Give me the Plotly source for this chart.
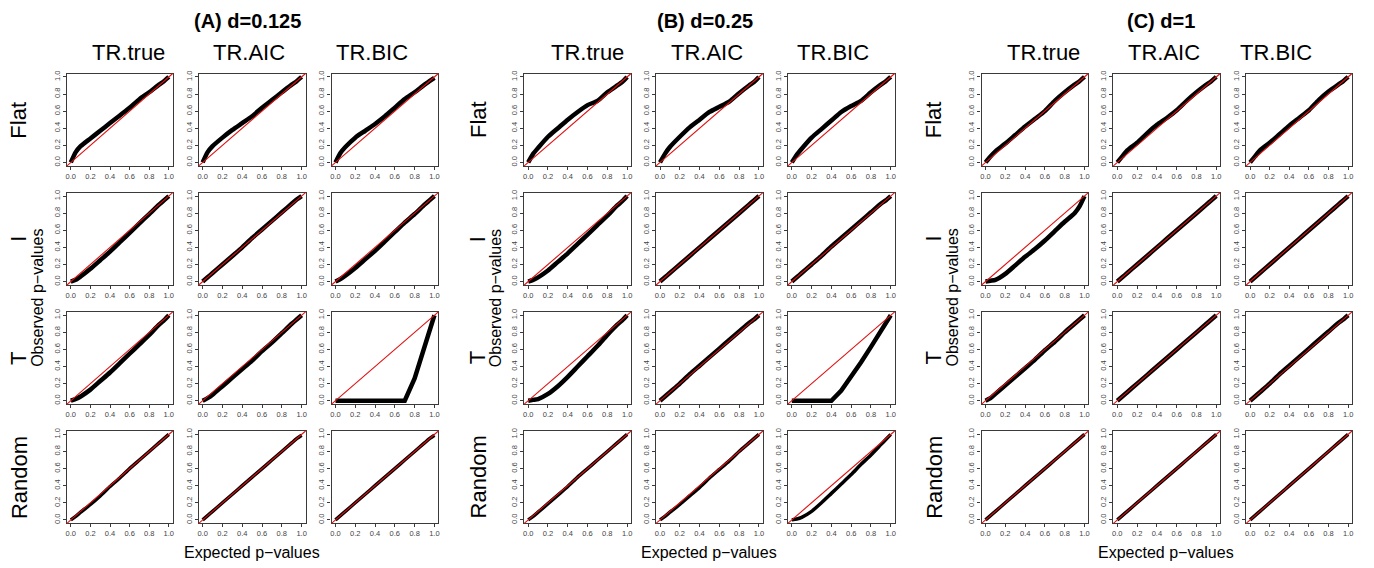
import plotly.graph_objects as go

# ---------------- data ----------------
EXPECTED = [0, 0.05, 0.1, 0.2, 0.3, 0.4, 0.5, 0.6, 0.7, 0.8, 0.9, 0.95, 1.0]
TICKS = [0.0, 0.2, 0.4, 0.6, 0.8, 1.0]
TICK_TEXT = ["0.0", "0.2", "0.4", "0.6", "0.8", "1.0"]
PANEL_TITLES = ["(A) d=0.125", "(B) d=0.25", "(C) d=1"]
METHODS = ["TR.true", "TR.AIC", "TR.BIC"]
MODELS = ["Flat", "I", "T", "Random"]

# observed p-value quantiles; each list of 3 = TR.true, TR.AIC, TR.BIC
A_FLAT = [[0, 0.12, 0.19, 0.28, 0.37, 0.46, 0.55, 0.64, 0.74, 0.82, 0.91, 0.95, 1.0],
          [0, 0.12, 0.19, 0.29, 0.38, 0.46, 0.54, 0.64, 0.73, 0.82, 0.91, 0.95, 1.0],
          [0, 0.11, 0.18, 0.29, 0.37, 0.45, 0.54, 0.64, 0.74, 0.82, 0.91, 0.95, 0.99]]
A_I = [[0, 0.02, 0.06, 0.15, 0.25, 0.35, 0.46, 0.57, 0.68, 0.79, 0.90, 0.95, 1.0],
       [0, 0.05, 0.10, 0.20, 0.30, 0.40, 0.51, 0.61, 0.71, 0.81, 0.91, 0.96, 1.0],
       [0, 0.03, 0.07, 0.16, 0.26, 0.36, 0.47, 0.58, 0.69, 0.79, 0.90, 0.95, 1.0]]
A_T = [[0, 0.02, 0.05, 0.13, 0.23, 0.33, 0.44, 0.55, 0.66, 0.77, 0.89, 0.94, 1.0],
       [0, 0.03, 0.07, 0.17, 0.27, 0.37, 0.47, 0.58, 0.68, 0.79, 0.90, 0.95, 1.0],
       [0, 0, 0, 0, 0, 0, 0, 0, 0, 0.26, 0.62, 0.81, 1.0]]
A_R = [[0, 0.04, 0.09, 0.18, 0.28, 0.39, 0.49, 0.60, 0.70, 0.80, 0.90, 0.95, 1.0],
       [0, 0.05, 0.10, 0.20, 0.30, 0.40, 0.50, 0.60, 0.70, 0.80, 0.90, 0.95, 0.99],
       [0, 0.05, 0.10, 0.20, 0.30, 0.40, 0.50, 0.60, 0.70, 0.80, 0.90, 0.95, 0.99]]

B_FLAT = [[0, 0.10, 0.17, 0.30, 0.40, 0.50, 0.59, 0.67, 0.72, 0.82, 0.90, 0.94, 1.0],
          [0, 0.10, 0.18, 0.30, 0.41, 0.50, 0.59, 0.65, 0.71, 0.81, 0.90, 0.94, 1.0],
          [0, 0.09, 0.16, 0.29, 0.39, 0.49, 0.59, 0.66, 0.72, 0.82, 0.91, 0.95, 1.0]]
B_I = [[0, 0.02, 0.05, 0.13, 0.23, 0.33, 0.44, 0.55, 0.66, 0.77, 0.89, 0.94, 1.0],
       [0, 0.05, 0.10, 0.20, 0.30, 0.40, 0.50, 0.60, 0.70, 0.80, 0.90, 0.95, 1.0],
       [0, 0.05, 0.10, 0.20, 0.30, 0.41, 0.51, 0.61, 0.71, 0.81, 0.91, 0.95, 1.0]]
B_T = [[0, 0.01, 0.02, 0.08, 0.17, 0.28, 0.40, 0.52, 0.64, 0.77, 0.89, 0.94, 1.0],
       [0, 0.05, 0.10, 0.20, 0.31, 0.41, 0.51, 0.61, 0.71, 0.81, 0.91, 0.95, 1.0],
       [0, 0, 0, 0, 0, 0, 0.12, 0.28, 0.45, 0.63, 0.82, 0.91, 1.0]]
B_R = [[0, 0.04, 0.09, 0.19, 0.29, 0.39, 0.50, 0.60, 0.70, 0.80, 0.90, 0.95, 1.0],
       [0, 0.04, 0.09, 0.18, 0.28, 0.38, 0.49, 0.59, 0.69, 0.80, 0.90, 0.95, 1.0],
       [0, 0.01, 0.03, 0.10, 0.20, 0.31, 0.42, 0.53, 0.65, 0.76, 0.88, 0.94, 1.0]]

C_FLAT = [[0, 0.07, 0.13, 0.22, 0.32, 0.42, 0.51, 0.60, 0.72, 0.82, 0.91, 0.95, 1.0],
          [0, 0.07, 0.14, 0.23, 0.34, 0.44, 0.52, 0.61, 0.72, 0.82, 0.91, 0.95, 1.0],
          [0, 0.07, 0.14, 0.23, 0.33, 0.43, 0.52, 0.61, 0.73, 0.83, 0.91, 0.95, 1.0]]
C_I = [[0, 0.01, 0.02, 0.09, 0.19, 0.29, 0.38, 0.48, 0.59, 0.70, 0.80, 0.88, 1.0],
       [0, 0.05, 0.10, 0.20, 0.30, 0.40, 0.50, 0.60, 0.70, 0.80, 0.90, 0.95, 1.0],
       [0, 0.05, 0.10, 0.20, 0.30, 0.40, 0.50, 0.60, 0.70, 0.80, 0.90, 0.95, 1.0]]
C_T = [[0, 0.03, 0.08, 0.18, 0.28, 0.38, 0.48, 0.59, 0.69, 0.80, 0.90, 0.95, 1.0],
       [0, 0.05, 0.10, 0.20, 0.30, 0.40, 0.50, 0.60, 0.70, 0.80, 0.90, 0.95, 1.0],
       [0, 0.05, 0.10, 0.20, 0.31, 0.41, 0.51, 0.61, 0.71, 0.81, 0.91, 0.95, 1.0]]
C_R = [[0, 0.05, 0.10, 0.20, 0.30, 0.40, 0.50, 0.60, 0.70, 0.80, 0.90, 0.95, 1.0],
       [0, 0.05, 0.10, 0.20, 0.30, 0.40, 0.50, 0.60, 0.70, 0.80, 0.90, 0.95, 1.0],
       [0, 0.05, 0.10, 0.20, 0.30, 0.40, 0.50, 0.60, 0.70, 0.80, 0.90, 0.95, 1.0]]

PANELS = [[A_FLAT, A_I, A_T, A_R], [B_FLAT, B_I, B_T, B_R], [C_FLAT, C_I, C_T, C_R]]

# ---------------- layout (pixels) ----------------
W, H = 1374, 568
AX_RANGE = [-0.04, 1.04]
COL_X = [[(66, 172), (198, 305), (331, 438)],
         [(524, 631), (656, 763), (788, 895)],
         [(982, 1089), (1114, 1221), (1247, 1353)]]
ROW_Y = [(71, 164), (191, 284), (311, 404), (431, 524)]
TITLE_X = [247, 705, 1162]
METHOD_X = [[128, 248, 372], [587, 707, 833], [1044, 1165, 1277]]
MODEL_X = [18, 478, 934]
OBS_X = [37, 496, 953]
EXP_X = [251, 709, 1167]

FONT = "Liberation Sans, Arial, Helvetica, sans-serif"
FRAME = "#3a3a3a"


def fx(px):
    return px / W


def fy(py):
    return 1 - py / H


def label(text, x, y, size, angle=0):
    return dict(text=text, x=fx(x), y=fy(y), xref="paper", yref="paper",
                xanchor="center", yanchor="middle", showarrow=False, textangle=angle,
                font=dict(size=size, color="black", family=FONT))


fig = go.Figure()
layout = {}
shapes = []
n = 0
for p, panel in enumerate(PANELS):
    for r, row in enumerate(panel):
        for c, obs in enumerate(row):
            n += 1
            xa = "x" if n == 1 else f"x{n}"
            ya = "y" if n == 1 else f"y{n}"
            kinked = obs.count(0) > 2  # sharp corner: keep straight segments
            fig.add_trace(go.Scatter(
                x=EXPECTED, y=obs, xaxis=xa, yaxis=ya, mode="lines",
                line=dict(color="black", width=4.5 if r < 3 else 3.5,
                          shape="linear" if kinked else "spline", smoothing=0.6),
                showlegend=False, hoverinfo="skip"))
            x0, x1 = COL_X[p][c]
            y0, y1 = ROW_Y[r]
            common = dict(range=AX_RANGE, tickvals=TICKS, ticktext=TICK_TEXT,
                          showgrid=False, zeroline=False, showline=True, mirror=True,
                          linecolor=FRAME, linewidth=1.3, ticks="outside", ticklen=3,
                          tickwidth=1, tickcolor=FRAME, fixedrange=True,
                          tickfont=dict(size=7.5, color="#444444", family=FONT))
            layout["xaxis" if n == 1 else f"xaxis{n}"] = dict(
                domain=[fx(x0), fx(x1)], anchor=ya, **common)
            layout["yaxis" if n == 1 else f"yaxis{n}"] = dict(
                domain=[fy(y1), fy(y0)], anchor=xa, tickangle=-90, **common)
            shapes.append(dict(type="line", xref=f"{xa} domain", yref=f"{ya} domain",
                               x0=0, y0=0, x1=1, y1=1,
                               line=dict(color="#e01010", width=1.1), layer="above"))

annotations = []
for p in range(3):
    annotations.append(label(f"<b>{PANEL_TITLES[p]}</b>", TITLE_X[p], 18, 20))
    for c in range(3):
        annotations.append(label(METHODS[c], METHOD_X[p][c], 50, 22))
    for r in range(4):
        yc = (ROW_Y[r][0] + ROW_Y[r][1]) / 2
        annotations.append(label(MODELS[r], MODEL_X[p], yc, 22, -90))
    annotations.append(label("Observed p\u2212values", OBS_X[p], 297, 16, -90))
    annotations.append(label("Expected p\u2212values", EXP_X[p], 553, 16))

fig.update_layout(width=W, height=H, margin=dict(l=0, r=0, t=0, b=0),
                  paper_bgcolor="white", plot_bgcolor="white",
                  shapes=shapes, annotations=annotations, **layout)
fig.write_html("out.html", config={"displayModeBar": False},
               post_script="document.body.style.margin='0';document.body.style.overflow='hidden';")
